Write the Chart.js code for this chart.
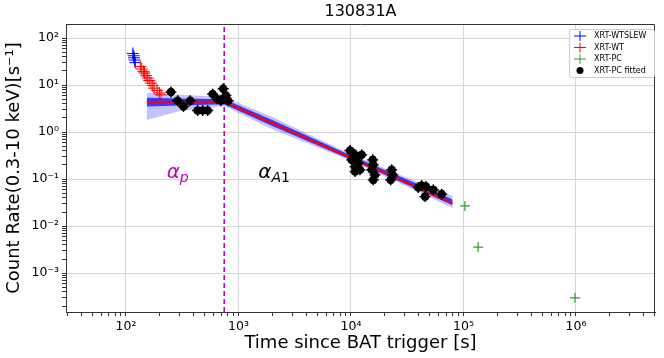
<!DOCTYPE html>
<html>
<head>
<meta charset="utf-8">
<script src="https://cdn.jsdelivr.net/npm/chart.js@4.4.1/dist/chart.umd.min.js"></script>
<style>
  html, body { margin: 0; padding: 0; background: #fff; }
  #wrap { width: 664px; height: 358px; }
</style>
</head>
<body>
<div id="wrap"><canvas id="lc" width="664" height="358"></canvas></div>
<script>
const grbName = "130831A";

// XRT-WTSLEW
const slewTime = [115, 117, 118, 119, 121];
const slewRate = [47, 42, 38, 34, 30];

// XRT-WT
const wtTime = [134, 138, 143, 146, 151, 156, 161, 167, 173, 178, 189, 198, 205];
const wtRate = [24.9, 21.9, 19.5, 18.0, 15.8, 14.1, 12.5, 11.0, 9.7, 8.6, 7.7, 6.8, 6.2];

// XRT-PC points used in the fit
const fitTime = [251, 288, 325, 372, 433, 480, 532, 589, 643, 698, 731, 757, 773, 810,
  9800, 10480, 11240, 10150, 11610, 10860, 12020, 10860, 12450,
  15600, 15780, 15270, 16340, 15780,
  23000, 23500, 22540,
  39600, 42500, 46400, 45500, 54000, 64000];
const fitRate = [7.1, 4.63, 3.5, 4.63, 2.88, 2.88, 2.88, 6.44, 5.11, 4.63, 8.34, 5.11, 6.0, 4.63,
  0.406, 0.357, 0.303, 0.257, 0.219, 0.185, 0.158, 0.145, 0.329,
  0.257, 0.201, 0.158, 0.123, 0.0966,
  0.158, 0.123, 0.0966,
  0.0663, 0.0731, 0.0696, 0.0426, 0.0592, 0.048];

// XRT-PC points after the fit range
const pcLateTime = [103000, 135000, 980000];
const pcLateRate = [0.027, 0.0036, 0.0003];

// best fit (plateau + decay) and spread of the posterior samples
const modelTime = [153, 747, 80000];
const modelRate = [4.4, 4.4, 0.031];
const bandTime = [153, 300, 747, 2000, 10000, 40000, 80000];
const outerHi = [6.9, 6.2, 5.6, 2.1, 0.34, 0.085, 0.044];
const innerHi = [5.4, 5.2, 5.0, 1.8, 0.32, 0.077, 0.037];
const innerLo = [3.5, 3.7, 3.9, 1.35, 0.26, 0.059, 0.028];
const outerLo = [1.8, 2.8, 3.6, 1.15, 0.245, 0.053, 0.024];

const breakTime = 747;

const xMin = 29.3, xMax = 5.04e6;
const yMin = 1.5e-4, yMax = 198.6;

const pts = (xs, ys) => xs.map((x, i) => ({ x: x, y: ys[i] }));

const sup = { '-': '\u207b', '0': '\u2070', '1': '\u00b9', '2': '\u00b2', '3': '\u00b3',
  '4': '\u2074', '5': '\u2075', '6': '\u2076', '7': '\u2077', '8': '\u2078', '9': '\u2079' };

function isMajor(v) {
  const l = Math.log10(v);
  return Math.abs(l - Math.round(l)) < 1e-6;
}
function powLabel(v) {
  const e = String(Math.round(Math.log10(v)));
  return '10' + e.split('').map(c => sup[c]).join('');
}
function logTicks(min, max) {
  const out = [];
  for (let e = Math.floor(Math.log10(min)); e <= Math.ceil(Math.log10(max)); e++) {
    for (let d = 1; d <= 9; d++) {
      const v = d * Math.pow(10, e);
      if (v >= min && v <= max) out.push({ value: v });
    }
  }
  return out;
}

function axis(min, max, title) {
  return {
    type: 'logarithmic',
    min: min, max: max,
    afterBuildTicks: s => { s.ticks = logTicks(s.min, s.max); },
    ticks: {
      autoSkip: false, maxRotation: 0, padding: 3, color: '#000',
      font: { size: 12.5 },
      callback: v => isMajor(v) ? powLabel(v) : ''
    },
    grid: {
      color: c => (c.tick && isMajor(c.tick.value)) ? '#d6d6d6' : 'rgba(0,0,0,0)',
      tickColor: '#333', tickLength: 4, lineWidth: 1
    },
    border: { color: '#333', width: 1 },
    title: { display: true, text: title, color: '#000', font: { size: 18 }, padding: { top: 4, bottom: 4 } }
  };
}

const xAxis = axis(xMin, xMax, 'Time since BAT trigger [s]');
xAxis.afterFit = s => { s.height = 46; };
const yAxis = axis(yMin, yMax, 'Count Rate(0.3-10 keV)[s\u207b\u00b9]');
yAxis.afterFit = s => { s.width = 66; };

const legendItems = [
  { text: 'XRT-WTSLEW', color: '#0000ff', kind: 'cross' },
  { text: 'XRT-WT', color: '#ff0000', kind: 'cross' },
  { text: 'XRT-PC', color: '#2ca02c', kind: 'cross' },
  { text: 'XRT-PC fitted', color: '#000000', kind: 'dot' }
];

const extras = {
  id: 'extras',
  afterDraw(chart) {
    const ctx = chart.ctx;
    const a = chart.chartArea;
    const xs = chart.scales.x, ys = chart.scales.y;
    ctx.save();
    // top / right spines
    ctx.strokeStyle = '#333';
    ctx.lineWidth = 1;
    ctx.beginPath();
    ctx.moveTo(Math.round(a.left) + 0.5, Math.round(a.top) + 0.5);
    ctx.lineTo(Math.round(a.right) - 0.5, Math.round(a.top) + 0.5);
    ctx.lineTo(Math.round(a.right) - 0.5, Math.round(a.bottom));
    ctx.stroke();

    // title
    ctx.fillStyle = '#000';
    ctx.font = '16px "DejaVu Sans"';
    ctx.textAlign = 'center';
    ctx.textBaseline = 'middle';
    ctx.fillText(grbName, (a.left + a.right) / 2, 12);

    // slope labels
    ctx.textAlign = 'left';
    ctx.textBaseline = 'alphabetic';
    const lab = (t, r, main, subs, col) => {
      let px = xs.getPixelForValue(t);
      const py = ys.getPixelForValue(r);
      ctx.fillStyle = col;
      ctx.font = 'italic 20px "DejaVu Sans"';
      ctx.fillText(main, px, py);
      px += ctx.measureText(main).width;
      subs.forEach(([s, it]) => {
        ctx.font = (it ? 'italic ' : '') + '14px "DejaVu Sans"';
        ctx.fillText(s, px, py + 4);
        px += ctx.measureText(s).width;
      });
    };
    lab(230, 0.104, '\u03b1', [['p', true]], '#bf00bf');
    lab(1500, 0.104, '\u03b1', [['A', true], ['1', false]], '#000');

    // legend box
    const bx = 569, by = 29, bw = 85, bh = 48;
    ctx.fillStyle = 'rgba(255,255,255,0.85)';
    ctx.strokeStyle = '#cccccc';
    ctx.beginPath();
    ctx.roundRect(bx + 0.5, by + 0.5, bw, bh, 2);
    ctx.fill();
    ctx.stroke();
    ctx.font = '8px "DejaVu Sans"';
    ctx.textBaseline = 'middle';
    legendItems.forEach((it, i) => {
      const cy = by + 7 + i * 11.5;
      const cx = 580;
      if (it.kind === 'cross') {
        ctx.strokeStyle = it.color;
        ctx.lineWidth = 1;
        ctx.beginPath();
        ctx.moveTo(cx - 6, cy); ctx.lineTo(cx + 6, cy);
        ctx.moveTo(cx, cy - 5); ctx.lineTo(cx, cy + 5);
        ctx.stroke();
      } else {
        ctx.fillStyle = it.color;
        ctx.beginPath();
        ctx.arc(cx, cy, 3.5, 0, Math.PI * 2);
        ctx.fill();
      }
      ctx.fillStyle = '#000';
      ctx.fillText(it.text, 594, cy);
    });
    ctx.restore();
  }
};

new Chart(document.getElementById('lc'), {
  type: 'scatter',
  data: {
    datasets: [
      { label: 'XRT-PC fitted', data: pts(fitTime, fitRate), pointStyle: 'circle', pointRadius: 4.3,
        backgroundColor: '#000', borderColor: '#000', borderWidth: 0 },
      { label: 'fit errors', data: pts(fitTime, fitRate), pointStyle: 'cross', pointRadius: 5.5,
        borderColor: '#000', borderWidth: 1.3 },
      { label: 'XRT-PC', data: pts(fitTime.concat(pcLateTime), fitRate.concat(pcLateRate)), pointStyle: 'cross',
        pointRadius: 5, borderColor: '#2ca02c', borderWidth: 1.2 },
      { label: 'break', data: [{ x: breakTime, y: yMin }, { x: breakTime, y: yMax }], showLine: true,
        pointRadius: 0, borderColor: '#bf00bf', borderWidth: 1.6, borderDash: [5, 3] },
      { label: 'XRT-WT', data: pts(wtTime, wtRate), pointStyle: 'cross', pointRadius: 6,
        borderColor: '#ff0000', borderWidth: 1 },
      { label: 'XRT-WTSLEW', data: pts(slewTime, slewRate), pointStyle: 'cross', pointRadius: 6,
        borderColor: '#0000ff', borderWidth: 1 },
      { label: 'model', data: pts(modelTime, modelRate), showLine: true, pointRadius: 0,
        borderColor: '#ff0000', borderWidth: 2 },
      { label: 'inner hi', data: pts(bandTime, innerHi), showLine: true, pointRadius: 0, borderWidth: 0,
        borderColor: 'rgba(0,0,0,0)', backgroundColor: 'rgba(10,10,255,0.75)', fill: '+1' },
      { label: 'inner lo', data: pts(bandTime, innerLo), showLine: true, pointRadius: 0, borderWidth: 0,
        borderColor: 'rgba(0,0,0,0)' },
      { label: 'outer hi', data: pts(bandTime, outerHi), showLine: true, pointRadius: 0, borderWidth: 0,
        borderColor: 'rgba(0,0,0,0)', backgroundColor: 'rgba(40,40,255,0.28)', fill: '+1' },
      { label: 'outer lo', data: pts(bandTime, outerLo), showLine: true, pointRadius: 0, borderWidth: 0,
        borderColor: 'rgba(0,0,0,0)' }
    ]
  },
  options: {
    responsive: false,
    animation: false,
    devicePixelRatio: 1,
    layout: { padding: { top: 24, right: 9, left: 0, bottom: 0 } },
    font: { family: '"DejaVu Sans"' },
    scales: { x: xAxis, y: yAxis },
    plugins: { legend: { display: false }, tooltip: { enabled: false } }
  },
  plugins: [extras]
});
</script>
</body>
</html>
